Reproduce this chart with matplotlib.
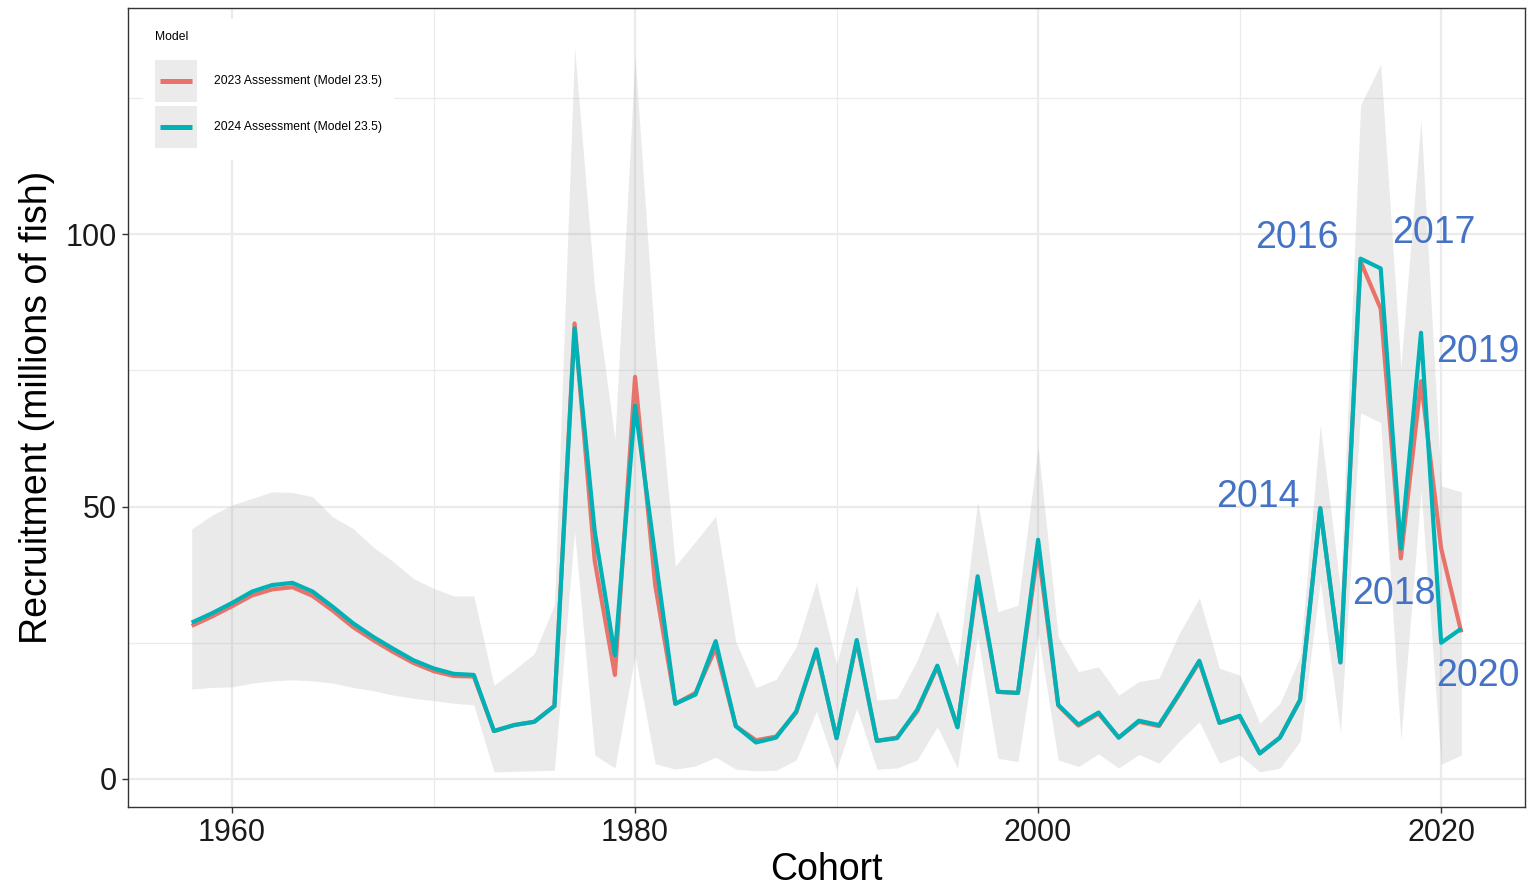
import matplotlib
matplotlib.use("Agg")
import matplotlib.pyplot as plt
from matplotlib.legend_handler import HandlerBase
from matplotlib.patches import Rectangle
from matplotlib.lines import Line2D

years = list(range(1958, 2022))

rec_2024 = [28.7, 30.4, 32.3, 34.4, 35.6, 36.0, 34.4, 31.6, 28.6, 26.1,
            23.9, 21.8, 20.3, 19.3, 19.1, 8.8, 9.9, 10.5, 13.4, 82.7,
            45.4, 22.7, 68.5, 40.9, 13.8, 15.5, 25.3, 9.7, 6.7, 7.6,
            12.4, 23.8, 7.5, 25.5, 7.0, 7.5, 12.7, 20.8, 9.5, 37.2,
            16.0, 15.8, 43.9, 13.6, 10.0, 12.2, 7.6, 10.7, 9.9, 15.7,
            21.7, 10.3, 11.6, 4.7, 7.6, 14.5, 49.7, 21.4, 95.5, 93.7,
            42.3, 81.9, 25.0, 27.6]

rec_2023 = [28.1, 29.8, 31.7, 33.7, 34.8, 35.2, 33.6, 30.9, 27.9, 25.5,
            23.3, 21.3, 19.8, 18.9, 18.8, 8.8, 9.9, 10.5, 13.4, 83.6,
            40.0, 19.1, 73.8, 35.6, 13.8, 15.8, 24.0, 9.7, 7.1, 7.8,
            12.2, 23.5, 7.5, 25.2, 7.0, 7.6, 12.4, 20.6, 9.5, 36.5,
            16.0, 15.8, 42.0, 13.5, 9.8, 12.0, 7.6, 10.5, 9.7, 15.5,
            21.5, 10.3, 11.5, 4.7, 7.6, 14.5, 49.7, 21.4, 95.0, 86.3,
            40.5, 73.0, 42.3, 26.9]

upper = [45.9, 48.4, 50.3, 51.5, 52.7, 52.6, 51.8, 48.1, 46.0, 42.6,
         39.9, 36.8, 35.0, 33.6, 33.6, 17.2, 20.0, 23.0, 32.0, 134.3,
         89.9, 62.3, 132.6, 79.2, 39.1, 43.6, 48.2, 25.2, 16.8, 18.3,
         24.3, 36.2, 21.0, 35.6, 14.5, 14.8, 21.8, 31.0, 20.6, 50.9,
         30.7, 31.9, 61.0, 26.1, 19.7, 20.6, 15.4, 17.9, 18.5, 26.7,
         33.2, 20.3, 19.1, 10.2, 13.9, 22.4, 65.0, 35.0, 123.7, 131.2,
         75.6, 121.0, 53.8, 52.7]

lower = [16.5, 16.8, 16.9, 17.6, 18.0, 18.2, 18.0, 17.6, 16.8, 16.2,
         15.4, 14.8, 14.4, 13.9, 13.6, 1.3, 1.4, 1.5, 1.6, 45.4,
         4.4, 2.0, 22.7, 2.8, 1.8, 2.4, 4.0, 1.8, 1.5, 1.6,
         3.5, 12.4, 1.7, 13.0, 1.8, 2.0, 3.5, 9.6, 2.0, 26.1,
         3.8, 3.2, 26.7, 3.5, 2.3, 4.6, 2.0, 4.5, 2.9, 6.9,
         10.5, 2.9, 4.4, 1.3, 2.0, 6.9, 36.2, 8.5, 67.2, 65.4,
         7.1, 52.9, 2.7, 4.4]

label_texts = ["2014", "2016", "2017", "2018", "2019", "2020"]
label_x = [2010.9, 2012.85, 2019.65, 2017.67, 2021.8, 2021.8]
label_y = [51.7, 99.3, 100.2, 33.9, 78.3, 18.9]

series_names = ["2023 Assessment (Model 23.5)", "2024 Assessment (Model 23.5)"]
col_red = "#E8736A"
col_teal = "#00B2B6"

plt.rcParams["font.family"] = ["Liberation Sans", "DejaVu Sans"]

fig = plt.figure(figsize=(15.29, 8.88), dpi=100)
ax = fig.add_axes([128/1529, 1 - 807/888, (1525-128)/1529, (807-8)/888])

ax.fill_between(years, lower, upper, color="#999999", alpha=0.2, linewidth=0, zorder=2)
l1, = ax.plot(years, rec_2023, color=col_red, lw=3.0, zorder=3, solid_joinstyle="round", solid_capstyle="butt")
l2, = ax.plot(years, rec_2024, color=col_teal, lw=3.0, zorder=4, solid_joinstyle="round", solid_capstyle="butt")

for t, x, y in zip(label_texts, label_x, label_y):
    ax.text(x, y, t, color="#4472C4", fontsize=27, ha="center", va="center", zorder=6)

ax.set_xlim(1954.84, 2024.16)
ax.set_ylim(-5.14, 141.5)
ax.set_xticks([1960, 1980, 2000, 2020])
ax.set_xticks([1970, 1990, 2010], minor=True)
ax.set_yticks([0, 50, 100])
ax.set_yticks([25, 75, 125], minor=True)
ax.grid(True, which="major", color="#EBEBEB", lw=1.6, zorder=0)
ax.grid(True, which="minor", color="#EBEBEB", lw=0.9, zorder=0)
ax.set_axisbelow(True)
ax.tick_params(which="major", length=4, width=1, color="#333333", labelsize=22,
               labelcolor="#1A1A1A", pad=4)
ax.tick_params(which="minor", length=0)
for s in ax.spines.values():
    s.set_color("#333333")
    s.set_linewidth(1.0)

ax.set_xlabel("Cohort", fontsize=27, labelpad=3)
ax.set_ylabel("Recruitment (millions of fish)", fontsize=27, labelpad=8)


class KeyHandler(HandlerBase):
    def create_artists(self, legend, orig_handle, xdescent, ydescent, width, height, fontsize, trans):
        bg = Rectangle((-xdescent, -ydescent), width, height, facecolor="#EBEBEB",
                       edgecolor="none", transform=trans)
        ln = Line2D([-xdescent + width * 0.12, -xdescent + width * 0.88],
                    [-ydescent + height / 2] * 2, color=orig_handle.get_color(),
                    lw=3.6, transform=trans, solid_capstyle="butt")
        return [bg, ln]


leg = ax.legend([l1, l2], series_names, title="Model", loc="upper left",
                bbox_to_anchor=(143/1529, 1 - 19/888), bbox_transform=fig.transFigure,
                fontsize=8.7, title_fontsize=8.7, frameon=True, fancybox=False,
                facecolor="white", edgecolor="none", framealpha=1.0,
                handlelength=3.5, handleheight=4.97, labelspacing=0.34,
                handletextpad=1.4, borderpad=1.0, borderaxespad=0,
                handler_map={Line2D: KeyHandler()})
leg._legend_box.align = "left"
leg._legend_box.sep = 12
leg.set_zorder(5)

fig.savefig("out.png", dpi=100)
